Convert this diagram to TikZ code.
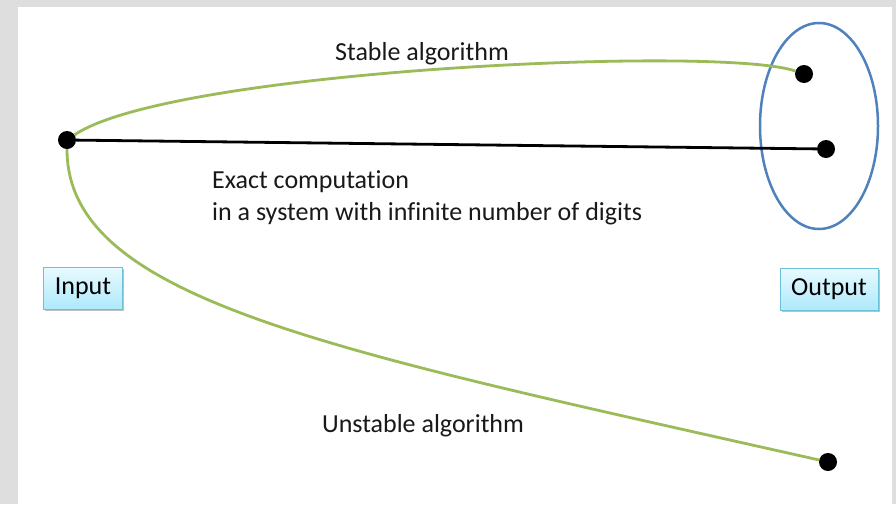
\documentclass[tikz,border=0pt]{standalone}
\usepackage{fontspec}
\setmainfont{Carlito}[Ligatures=NoCommon]
\usetikzlibrary{shadows}
\definecolor{bggray}{HTML}{DEDEDE}
\definecolor{curvegreen}{HTML}{9BBB59}
\definecolor{ellblue}{HTML}{4F81BD}
\definecolor{boxtop}{HTML}{E8FAFF}
\definecolor{boxbot}{HTML}{AEE9FB}
\definecolor{boxedge}{HTML}{6CC0D8}
\tikzset{
  dotnode/.style={circle, fill=black, inner sep=0pt, minimum size=18pt},
  iobox/.style={draw=boxedge, line width=1pt, top color=boxtop, bottom color=boxbot,
     minimum height=42pt, inner sep=0pt, font=\fontsize{26}{31}\selectfont,
     drop shadow={shadow xshift=1.5pt, shadow yshift=-1.5pt, fill=black, opacity=0.25}},
  lbl/.style={font=\fontsize{26}{32}\selectfont, inner sep=0pt, text=black!90},
  algcurve/.style={draw=curvegreen, line width=2.8pt},
  exactline/.style={draw=black, line width=2.8pt},
}
\begin{document}
\begin{tikzpicture}[x=1pt, y=-1pt]
\useasboundingbox (0,0) rectangle (896,504);
\fill[bggray] (0,0) rectangle (896,504);
\fill[white] (18,7) rectangle (892,504);

% output set
\draw[ellblue, line width=2.5pt] (819,126) ellipse [x radius=59, y radius=103];

% dots
\node[dotnode] (in) at (67,140) {};
\node[dotnode] (st) at (804,74) {};
\node[dotnode] (ex) at (826,149) {};
\node[dotnode] (un) at (828,462) {};

% connectors
\draw[algcurve] (in) .. controls (170,70) and (720,45) .. (st);
\draw[exactline] (in) -- (ex);
\draw[algcurve] (in) .. controls (67,300) and (330,350) .. (un);

% labels
\node[lbl, anchor=base] (stl) at (422,60) {Stable algorithm};
\node[lbl, anchor=base west, align=left] (exl) at (212,220) {Exact computation\\in a system with infinite number of digits};
\node[lbl, anchor=base] (unl) at (423,432) {Unstable algorithm};

% boxes
\node[iobox, minimum width=79pt] (inbox) at (83,288) {Input};
\node[iobox, minimum width=98pt] (outbox) at (829,289) {Output};
\end{tikzpicture}
\end{document}
